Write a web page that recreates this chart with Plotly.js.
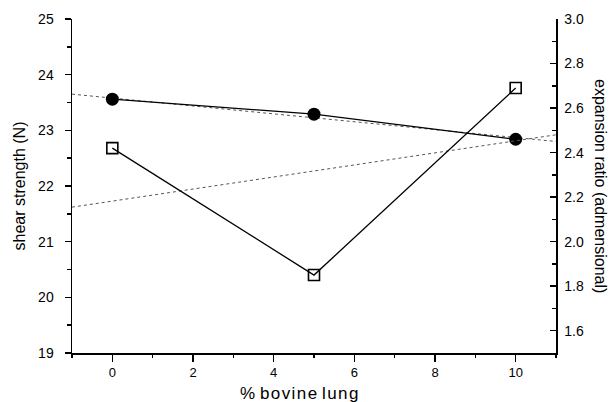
<!DOCTYPE html>
<html>
<head>
<meta charset="utf-8">
<script src="https://cdn.plot.ly/plotly-3.0.1.min.js"></script>
<style>html,body{margin:0;padding:0;background:#fff;}#chart{width:610px;height:402px;}</style>
</head>
<body>
<div id="chart"></div>
<script>
// Data
const pct = [0, 5, 10];                       // % bovine lung
const shearStrength = [23.56, 23.29, 22.84];  // filled circles, left axis (N)
const expansionRatio = [2.42, 1.85, 2.69];    // open squares, right axis
// Dotted trend lines (end values)
const fitX = [-1, 11];
const shearFit = [23.65, 22.80];
const expansionFit = [2.155, 2.48];

const font = 'Liberation Sans, Arial, sans-serif';

const traces = [
  {x: fitX, y: shearFit, mode: 'lines', line: {color: '#555', width: 1, dash: 'dot'}, xaxis: 'x', yaxis: 'y', hoverinfo: 'skip'},
  {x: fitX, y: expansionFit, mode: 'lines', line: {color: '#555', width: 1, dash: 'dot'}, xaxis: 'x', yaxis: 'y2', hoverinfo: 'skip'},
  {x: pct, y: shearStrength, mode: 'lines+markers', line: {color: '#000', width: 1.3},
   marker: {symbol: 'circle', size: 13, color: '#000'}, xaxis: 'x', yaxis: 'y'},
  {x: pct, y: expansionRatio, mode: 'lines+markers', line: {color: '#000', width: 1.3},
   marker: {symbol: 'square-open', size: 11, color: '#000', line: {width: 1.6}}, xaxis: 'x', yaxis: 'y2'}
];

const layout = {
  width: 610, height: 402,
  margin: {l: 72, r: 54, t: 19, b: 49},
  showlegend: false,
  paper_bgcolor: '#fff', plot_bgcolor: '#fff',
  font: {family: font, color: '#000', size: 13},
  xaxis: {
    range: [-1, 11], dtick: 2, tick0: 0, showgrid: false, zeroline: false,
    showline: true, linecolor: '#000', linewidth: 1.5,
    ticks: 'outside', ticklen: 7, tickwidth: 1.5, tickcolor: '#000',
    minor: {dtick: 1, tick0: 0, ticks: 'outside', ticklen: 3, tickwidth: 1.5, tickcolor: '#000'},
    tickfont: {family: font, size: 13}
  },
  xaxis2: {
    overlaying: 'x', side: 'top', range: [-1, 11], dtick: 2, tick0: 0, showgrid: false, zeroline: false,
    showline: true, linecolor: '#000', linewidth: 1.5, showticklabels: false,
    ticks: 'inside', ticklen: 7, tickwidth: 1.5, tickcolor: '#000',
    minor: {dtick: 1, tick0: 0, ticks: 'inside', ticklen: 3, tickwidth: 1.5, tickcolor: '#000'}
  },
  yaxis: {
    range: [19, 25], dtick: 1, showgrid: false, zeroline: false,
    showline: true, linecolor: '#000', linewidth: 1.5,
    ticks: 'outside', ticklen: 6, tickwidth: 1.5, tickcolor: '#000',
    minor: {dtick: 0.5, ticks: 'outside', ticklen: 4, tickwidth: 1.5, tickcolor: '#000'},
    tickfont: {family: font, size: 14}, ticklabelstandoff: 8,
    title: {text: 'shear strength (N)', font: {family: font, size: 16}, standoff: 8}
  },
  yaxis2: {
    overlaying: 'y', side: 'right', range: [1.5, 3.0], dtick: 0.2, tick0: 1.6, tickformat: '.1f',
    showgrid: false, zeroline: false,
    showline: true, linecolor: '#000', linewidth: 1.5,
    ticks: 'inside', ticklen: 6, tickwidth: 1.5, tickcolor: '#000',
    minor: {dtick: 0.1, ticks: 'inside', ticklen: 4, tickwidth: 1.5, tickcolor: '#000'},
    tickfont: {family: font, size: 14}, ticklabelstandoff: 4
  },
  annotations: [
    {
      text: 'expansion ratio (admensional)', xref: 'paper', yref: 'paper', x: 1, y: 0.5,
      xanchor: 'center', yanchor: 'middle', xshift: 45, textangle: 90, showarrow: false,
      font: {family: font, size: 16, color: '#000'}
    },
    {
      text: '%\u200A\u2009b\u200Ao\u200Av\u200Ai\u200An\u200Ae\u2009\u200Al\u200Au\u200An\u200Ag', xref: 'x', yref: 'paper', x: 4.64, y: 0,
      xanchor: 'center', yanchor: 'middle', yshift: -40, showarrow: false,
      font: {family: font, size: 17, color: '#000'}
    }
  ]
};

Plotly.newPlot('chart', traces, layout, {displayModeBar: false, staticPlot: true});
</script>
</body>
</html>
